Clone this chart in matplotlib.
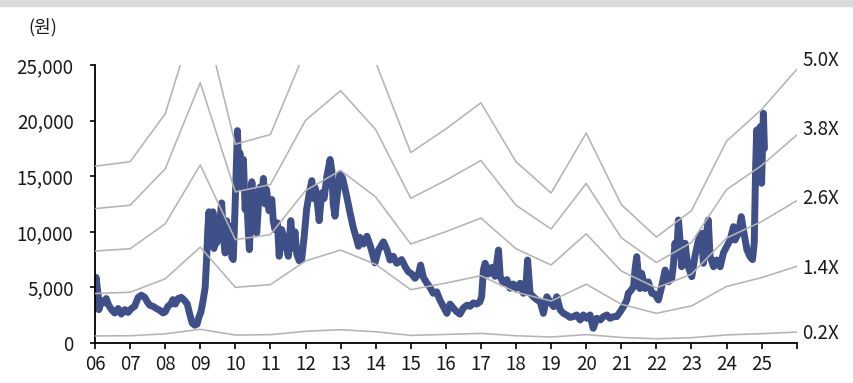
import matplotlib
matplotlib.use('Agg')
import matplotlib.pyplot as plt
from matplotlib.ticker import FuncFormatter
from matplotlib.patches import Rectangle

plt.rcParams['font.family'] = ['Noto Sans CJK KR', 'DejaVu Sans']

# ---------------- data ----------------
bps_years = list(range(2006, 2027))
bps = [3180, 3260, 4120, 6160, 3575, 3750, 5270, 5970, 5050, 3425,
       3850, 4320, 3260, 2698, 3775, 2490, 1905, 2380, 3630, 4200, 4920]
multiples = [0.2, 1.4, 2.6, 3.8, 5.0]
band_labels = ['0.2X', '1.4X', '2.6X', '3.8X', '5.0X']

year_ticks = list(range(2006, 2027))
year_labels = ['06', '07', '08', '09', '10', '11', '12', '13', '14', '15',
               '16', '17', '18', '19', '20', '21', '22', '23', '24', '25', '']

price_year = [
    2006.00, 2006.03, 2006.09, 2006.11, 2006.18, 2006.26, 2006.32, 2006.39, 2006.47, 2006.56,
    2006.66, 2006.75, 2006.85, 2006.94, 2007.04, 2007.13, 2007.23, 2007.32, 2007.42, 2007.49,
    2007.56, 2007.65, 2007.75, 2007.84, 2007.94, 2008.00, 2008.08, 2008.16, 2008.22, 2008.29,
    2008.37, 2008.46, 2008.56, 2008.63, 2008.70, 2008.77, 2008.84, 2008.91, 2008.96, 2009.02,
    2009.08, 2009.14, 2009.18, 2009.22, 2009.25, 2009.28, 2009.31, 2009.34, 2009.36, 2009.39,
    2009.42, 2009.47, 2009.54, 2009.61, 2009.66, 2009.71, 2009.75, 2009.80, 2009.85, 2009.90,
    2009.94, 2009.99, 2010.06, 2010.10, 2010.13, 2010.18, 2010.23, 2010.28, 2010.32, 2010.37,
    2010.40, 2010.44, 2010.47, 2010.51, 2010.56, 2010.61, 2010.66, 2010.70, 2010.75, 2010.80,
    2010.85, 2010.89, 2010.96, 2011.04, 2011.08, 2011.13, 2011.20, 2011.25, 2011.32, 2011.42,
    2011.51, 2011.58, 2011.65, 2011.70, 2011.75, 2011.82, 2011.89, 2011.96, 2012.03, 2012.11,
    2012.18, 2012.22, 2012.27, 2012.34, 2012.39, 2012.46, 2012.53, 2012.61, 2012.70, 2012.75,
    2012.79, 2012.84, 2012.91, 2012.98, 2013.06, 2013.13, 2013.18, 2013.27, 2013.36, 2013.46,
    2013.51, 2013.55, 2013.65, 2013.75, 2013.84, 2013.93, 2013.98, 2014.08, 2014.22, 2014.32,
    2014.41, 2014.50, 2014.60, 2014.74, 2014.84, 2014.93, 2015.03, 2015.12, 2015.22, 2015.28,
    2015.36, 2015.46, 2015.55, 2015.64, 2015.74, 2015.83, 2015.93, 2016.03, 2016.12, 2016.21,
    2016.31, 2016.40, 2016.50, 2016.60, 2016.69, 2016.78, 2016.88, 2016.97, 2017.02, 2017.07,
    2017.12, 2017.21, 2017.31, 2017.40, 2017.50, 2017.55, 2017.64, 2017.74, 2017.83, 2017.92,
    2018.01, 2018.12, 2018.21, 2018.29, 2018.33, 2018.40, 2018.49, 2018.59, 2018.69, 2018.78,
    2018.88, 2018.97, 2019.07, 2019.16, 2019.26, 2019.35, 2019.45, 2019.54, 2019.63, 2019.73,
    2019.83, 2019.92, 2020.02, 2020.11, 2020.20, 2020.30, 2020.40, 2020.49, 2020.59, 2020.68,
    2020.78, 2020.87, 2020.97, 2021.06, 2021.16, 2021.20, 2021.27, 2021.35, 2021.39, 2021.44,
    2021.49, 2021.53, 2021.58, 2021.68, 2021.77, 2021.87, 2021.96, 2022.06, 2022.15, 2022.25,
    2022.34, 2022.44, 2022.49, 2022.53, 2022.58, 2022.63, 2022.68, 2022.72, 2022.82, 2022.86,
    2022.91, 2023.01, 2023.10, 2023.20, 2023.29, 2023.34, 2023.39, 2023.48, 2023.53, 2023.63,
    2023.72, 2023.82, 2023.91, 2024.01, 2024.10, 2024.20, 2024.24, 2024.34, 2024.42, 2024.48,
    2024.58, 2024.67, 2024.74, 2024.79, 2024.83, 2024.86, 2024.91, 2024.96, 2025.00, 2025.05,
    2025.08,
]
price_value = [
    3300, 5900, 4300, 3000, 3800, 3600, 4000, 3400, 3000, 2700,
    3100, 2600, 3000, 2750, 3100, 3300, 4100, 4300, 4100, 3700,
    3400, 3300, 3100, 2950, 2700, 2800, 3300, 3500, 3900, 3500,
    4000, 4100, 3800, 3500, 2600, 1800, 1600, 1700, 2300, 2800,
    3800, 5000, 7500, 10500, 11800, 8800, 11500, 9000, 11800, 8500,
    11200, 9000, 10500, 12600, 9500, 8100, 11000, 9000, 10500, 7700,
    7500, 12000, 19100, 15000, 17100, 14000, 16500, 12000, 13500, 10000,
    8400, 11500, 14500, 12500, 11900, 9900, 12500, 14000, 13000, 14800,
    12500, 13800, 11900, 12900, 11000, 10200, 10800, 7800, 10200, 9000,
    7800, 11000, 8500, 10000, 8000, 7400, 7500, 9500, 12000, 13500,
    14600, 13000, 14000, 12500, 11000, 13500, 13000, 15000, 16500, 15500,
    12500, 11400, 13500, 15200, 14800, 13800, 13100, 11700, 10400, 9300,
    8700, 9500, 8900, 9600, 8800, 7800, 7200, 8360, 9100, 8400,
    7460, 7800, 7170, 7500, 6860, 6410, 6200, 5820, 6200, 7010,
    5900, 5370, 5000, 4470, 4600, 3870, 3260, 2670, 3500, 3150,
    2810, 2600, 3150, 3400, 3300, 3600, 3500, 3700, 4160, 6560,
    7170, 6200, 6800, 6000, 8360, 5960, 5370, 5700, 4920, 5300,
    4920, 5370, 4470, 5500, 7460, 4470, 4160, 3900, 3700, 2670,
    4160, 3700, 3270, 4160, 2970, 2670, 2500, 2300, 2370, 2520,
    2070, 2520, 2220, 2520, 1320, 2220, 2070, 2370, 2520, 2220,
    2370, 2370, 2810, 3260, 3870, 4470, 4700, 5060, 6560, 7760,
    6000, 4900, 6270, 4900, 5500, 4470, 4400, 3870, 5060, 6560,
    5500, 5800, 7170, 8970, 8000, 11060, 9000, 6860, 8970, 7800,
    6860, 5960, 7800, 9260, 9870, 7170, 8970, 11060, 7800, 6860,
    7460, 6860, 8100, 8700, 9260, 10460, 9260, 9870, 11360, 10200,
    8400, 7760, 7500, 9000, 15860, 19150, 16500, 19450, 14360, 20660,
    17500,
]

# ---------------- layout / style ----------------
W, H = 854, 383
fig = plt.figure(figsize=(W / 100, H / 100), dpi=100)
fig.patches.append(Rectangle((0, 1 - 6 / H), 1, 6 / H, transform=fig.transFigure,
                             color='#d9d9d9', zorder=0))
ax = fig.add_axes([95 / W, 40 / H, 701.7 / W, 278 / H])

band_color = '#b4b4b4'
for m in multiples:
    ax.plot(bps_years, [m * b for b in bps], color=band_color, lw=1.15, zorder=3)

ax.plot(price_year, price_value, color='#3F4F88', lw=5.0, zorder=2,
        solid_joinstyle='round', solid_capstyle='round')

ax.set_xlim(2006, 2026)
ax.set_ylim(0, 25000)

for s in ['top', 'right']:
    ax.spines[s].set_visible(False)
for s in ['left', 'bottom']:
    ax.spines[s].set_color('black')
    ax.spines[s].set_linewidth(1.3)

ax.set_xticks(year_ticks)
ax.set_xticklabels(year_labels)
ax.set_yticks(range(0, 25001, 5000))
ax.yaxis.set_major_formatter(FuncFormatter(lambda v, p: f'{int(v):,}'))

ax.tick_params(axis='x', direction='out', length=4, width=1.2, labelsize=13.5,
               pad=4, colors='black', labelcolor='#1a1a1a')
ax.tick_params(axis='y', direction='out', length=3.5, width=1.2, labelsize=13.5,
               pad=12, colors='black', labelcolor='#1a1a1a')

label_y = [850, 6700, 13000, 19160, 25390]
for lab, ly in zip(band_labels, label_y):
    ax.annotate(lab, xy=(1, ly), xycoords=('axes fraction', 'data'),
                xytext=(4, 0), textcoords='offset points',
                ha='left', va='center', fontsize=13.5, color='#1a1a1a',
                annotation_clip=False)

fig.text(43 / W, 1 - 27 / H, '(원)', ha='center', va='center', fontsize=13,
         color='#1a1a1a')

fig.savefig('out.png', dpi=100)
